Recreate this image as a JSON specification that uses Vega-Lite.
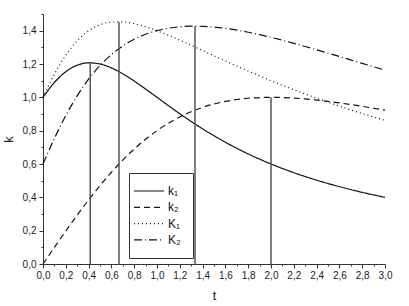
{
  "$schema": "https://vega.github.io/schema/vega-lite/v6.json",
  "width": 342,
  "height": 250,
  "autosize": {"type": "none"},
  "padding": {"left": 43, "top": 14, "right": 24, "bottom": 42},
  "background": "white",
  "config": {
    "view": {"stroke": null},
    "font": "Liberation Sans",
    "axis": {
      "grid": false,
      "domainColor": "#333",
      "tickColor": "#333",
      "labelColor": "#222",
      "titleColor": "#222",
      "labelFontSize": 10,
      "titleFontSize": 13,
      "titleFontWeight": "normal",
      "labelFont": "Liberation Sans",
      "titleFont": "Liberation Sans",
      "labelFlush": false,
      "labelBound": false
    }
  },
  "encoding": {
    "x": {
      "field": "t", "type": "quantitative",
      "scale": {"domain": [0, 3], "nice": false},
      "axis": {
        "title": "t",
        "values": [0, 0.1, 0.2, 0.3, 0.4, 0.5, 0.6, 0.7, 0.8, 0.9, 1.0, 1.1, 1.2, 1.3, 1.4, 1.5, 1.6, 1.7, 1.8, 1.9, 2.0, 2.1, 2.2, 2.3, 2.4, 2.5, 2.6, 2.7, 2.8, 2.9, 3.0],
        "labelExpr": "round(datum.value*10) % 2 === 0 ? replace(format(datum.value, '.1f'), '.', ',') : ''",
        "labelOverlap": false,
        "tickSize": {"condition": {"test": "round(datum.value*10) % 2 === 0", "value": 4}, "value": 2},
        "labelPadding": 2,
        "titlePadding": 9
      }
    },
    "y": {
      "field": "k", "type": "quantitative",
      "scale": {"domain": [0, 1.5], "nice": false, "zero": false},
      "axis": {
        "title": "k",
        "values": [0, 0.1, 0.2, 0.3, 0.4, 0.5, 0.6, 0.7, 0.8, 0.9, 1.0, 1.1, 1.2, 1.3, 1.4, 1.5],
        "labelExpr": "round(datum.value*10) % 2 === 0 ? replace(format(datum.value, '.1f'), '.', ',') : ''",
        "labelOverlap": false,
        "tickSize": {"condition": {"test": "round(datum.value*10) % 2 === 0", "value": 4}, "value": 2},
        "labelPadding": 3,
        "titlePadding": 7
      }
    }
  },
  "layer": [
    {
      "data": {
        "values": [
          {"t": 0.0, "k": 1.0, "s": "k₁"}, {"t": 0.1, "k": 1.0891, "s": "k₁"}, {"t": 0.2, "k": 1.1538, "s": "k₁"}, {"t": 0.3, "k": 1.1927, "s": "k₁"}, {"t": 0.4, "k": 1.2069, "s": "k₁"}, {"t": 0.5, "k": 1.2, "s": "k₁"}, {"t": 0.6, "k": 1.1765, "s": "k₁"}, {"t": 0.7, "k": 1.1409, "s": "k₁"}, {"t": 0.8, "k": 1.0976, "s": "k₁"}, {"t": 0.9, "k": 1.0497, "s": "k₁"}, {"t": 1.0, "k": 1.0, "s": "k₁"}, {"t": 1.1, "k": 0.9502, "s": "k₁"}, {"t": 1.2, "k": 0.9016, "s": "k₁"}, {"t": 1.3, "k": 0.855, "s": "k₁"}, {"t": 1.4, "k": 0.8108, "s": "k₁"}, {"t": 1.5, "k": 0.7692, "s": "k₁"}, {"t": 1.6, "k": 0.7303, "s": "k₁"}, {"t": 1.7, "k": 0.6941, "s": "k₁"}, {"t": 1.8, "k": 0.6604, "s": "k₁"}, {"t": 1.9, "k": 0.6291, "s": "k₁"}, {"t": 2.0, "k": 0.6, "s": "k₁"}, {"t": 2.1, "k": 0.573, "s": "k₁"}, {"t": 2.2, "k": 0.5479, "s": "k₁"}, {"t": 2.3, "k": 0.5246, "s": "k₁"}, {"t": 2.4, "k": 0.503, "s": "k₁"}, {"t": 2.5, "k": 0.4828, "s": "k₁"}, {"t": 2.6, "k": 0.4639, "s": "k₁"}, {"t": 2.7, "k": 0.4463, "s": "k₁"}, {"t": 2.8, "k": 0.4299, "s": "k₁"}, {"t": 2.9, "k": 0.4145, "s": "k₁"}, {"t": 3.0, "k": 0.4, "s": "k₁"},
          {"t": 0.0, "k": 0.0, "s": "k₂"}, {"t": 0.1, "k": 0.0998, "s": "k₂"}, {"t": 0.2, "k": 0.198, "s": "k₂"}, {"t": 0.3, "k": 0.2934, "s": "k₂"}, {"t": 0.4, "k": 0.3846, "s": "k₂"}, {"t": 0.5, "k": 0.4706, "s": "k₂"}, {"t": 0.6, "k": 0.5505, "s": "k₂"}, {"t": 0.7, "k": 0.6236, "s": "k₂"}, {"t": 0.8, "k": 0.6897, "s": "k₂"}, {"t": 0.9, "k": 0.7484, "s": "k₂"}, {"t": 1.0, "k": 0.8, "s": "k₂"}, {"t": 1.1, "k": 0.8445, "s": "k₂"}, {"t": 1.2, "k": 0.8824, "s": "k₂"}, {"t": 1.3, "k": 0.9139, "s": "k₂"}, {"t": 1.4, "k": 0.9396, "s": "k₂"}, {"t": 1.5, "k": 0.96, "s": "k₂"}, {"t": 1.6, "k": 0.9756, "s": "k₂"}, {"t": 1.7, "k": 0.9869, "s": "k₂"}, {"t": 1.8, "k": 0.9945, "s": "k₂"}, {"t": 1.9, "k": 0.9987, "s": "k₂"}, {"t": 2.0, "k": 1.0, "s": "k₂"}, {"t": 2.1, "k": 0.9988, "s": "k₂"}, {"t": 2.2, "k": 0.9955, "s": "k₂"}, {"t": 2.3, "k": 0.9903, "s": "k₂"}, {"t": 2.4, "k": 0.9836, "s": "k₂"}, {"t": 2.5, "k": 0.9756, "s": "k₂"}, {"t": 2.6, "k": 0.9665, "s": "k₂"}, {"t": 2.7, "k": 0.9566, "s": "k₂"}, {"t": 2.8, "k": 0.9459, "s": "k₂"}, {"t": 2.9, "k": 0.9347, "s": "k₂"}, {"t": 3.0, "k": 0.9231, "s": "k₂"},
          {"t": 0.0, "k": 1.0, "s": "K₁"}, {"t": 0.1, "k": 1.139, "s": "K₁"}, {"t": 0.2, "k": 1.2528, "s": "K₁"}, {"t": 0.3, "k": 1.3394, "s": "K₁"}, {"t": 0.4, "k": 1.3992, "s": "K₁"}, {"t": 0.5, "k": 1.4353, "s": "K₁"}, {"t": 0.6, "k": 1.4517, "s": "K₁"}, {"t": 0.7, "k": 1.4527, "s": "K₁"}, {"t": 0.8, "k": 1.4424, "s": "K₁"}, {"t": 0.9, "k": 1.4239, "s": "K₁"}, {"t": 1.0, "k": 1.4, "s": "K₁"}, {"t": 1.1, "k": 1.3725, "s": "K₁"}, {"t": 1.2, "k": 1.3428, "s": "K₁"}, {"t": 1.3, "k": 1.3119, "s": "K₁"}, {"t": 1.4, "k": 1.2806, "s": "K₁"}, {"t": 1.5, "k": 1.2492, "s": "K₁"}, {"t": 1.6, "k": 1.2181, "s": "K₁"}, {"t": 1.7, "k": 1.1876, "s": "K₁"}, {"t": 1.8, "k": 1.1576, "s": "K₁"}, {"t": 1.9, "k": 1.1284, "s": "K₁"}, {"t": 2.0, "k": 1.1, "s": "K₁"}, {"t": 2.1, "k": 1.0724, "s": "K₁"}, {"t": 2.2, "k": 1.0456, "s": "K₁"}, {"t": 2.3, "k": 1.0197, "s": "K₁"}, {"t": 2.4, "k": 0.9948, "s": "K₁"}, {"t": 2.5, "k": 0.9706, "s": "K₁"}, {"t": 2.6, "k": 0.9472, "s": "K₁"}, {"t": 2.7, "k": 0.9246, "s": "K₁"}, {"t": 2.8, "k": 0.9029, "s": "K₁"}, {"t": 2.9, "k": 0.8818, "s": "K₁"}, {"t": 3.0, "k": 0.8615, "s": "K₁"},
          {"t": 0.0, "k": 0.6, "s": "K₂"}, {"t": 0.1, "k": 0.7533, "s": "K₂"}, {"t": 0.2, "k": 0.8903, "s": "K₂"}, {"t": 0.3, "k": 1.009, "s": "K₂"}, {"t": 0.4, "k": 1.1087, "s": "K₂"}, {"t": 0.5, "k": 1.1906, "s": "K₂"}, {"t": 0.6, "k": 1.2564, "s": "K₂"}, {"t": 0.7, "k": 1.3081, "s": "K₂"}, {"t": 0.8, "k": 1.3483, "s": "K₂"}, {"t": 0.9, "k": 1.3782, "s": "K₂"}, {"t": 1.0, "k": 1.4, "s": "K₂"}, {"t": 1.1, "k": 1.4146, "s": "K₂"}, {"t": 1.2, "k": 1.4234, "s": "K₂"}, {"t": 1.3, "k": 1.4269, "s": "K₂"}, {"t": 1.4, "k": 1.4261, "s": "K₂"}, {"t": 1.5, "k": 1.4215, "s": "K₂"}, {"t": 1.6, "k": 1.4138, "s": "K₂"}, {"t": 1.7, "k": 1.4034, "s": "K₂"}, {"t": 1.8, "k": 1.3907, "s": "K₂"}, {"t": 1.9, "k": 1.3762, "s": "K₂"}, {"t": 2.0, "k": 1.36, "s": "K₂"}, {"t": 2.1, "k": 1.3426, "s": "K₂"}, {"t": 2.2, "k": 1.3242, "s": "K₂"}, {"t": 2.3, "k": 1.3051, "s": "K₂"}, {"t": 2.4, "k": 1.2854, "s": "K₂"}, {"t": 2.5, "k": 1.2653, "s": "K₂"}, {"t": 2.6, "k": 1.2448, "s": "K₂"}, {"t": 2.7, "k": 1.2244, "s": "K₂"}, {"t": 2.8, "k": 1.2038, "s": "K₂"}, {"t": 2.9, "k": 1.1834, "s": "K₂"}, {"t": 3.0, "k": 1.1631, "s": "K₂"}
        ]
      },
      "mark": {"type": "line", "interpolate": "monotone", "color": "#111", "strokeWidth": 1.2},
      "encoding": {
        "strokeDash": {
          "field": "s", "type": "nominal",
          "scale": {"domain": ["k₁", "k₂", "K₁", "K₂"], "range": [[1, 0], [6, 4], [1, 3], [8, 3, 1, 3]]},
          "legend": {
            "title": null,
            "orient": "none",
            "legendX": 86,
            "legendY": 159,
            "strokeColor": "#333",
            "fillColor": "white",
            "padding": 12,
            "symbolType": "M-2.6,0H3.4",
            "symbolSize": 100,
            "symbolStrokeColor": "#111",
            "symbolStrokeWidth": 1.2,
            "labelOffset": 15,
            "labelFontSize": 12,
            "labelColor": "#111",
            "labelFont": "Liberation Sans",
            "rowPadding": 4.3
          }
        }
      }
    },
    {
      "data": {
        "values": [
          {"t": 0.4142, "k": 1.2071},
          {"t": 0.6667, "k": 1.4527},
          {"t": 1.3333, "k": 1.4272},
          {"t": 2.0, "k": 1.0}
        ]
      },
      "mark": {"type": "rule", "color": "#555", "strokeWidth": 1.5},
      "encoding": {
        "y2": {"datum": 0}
      }
    }
  ]
}
